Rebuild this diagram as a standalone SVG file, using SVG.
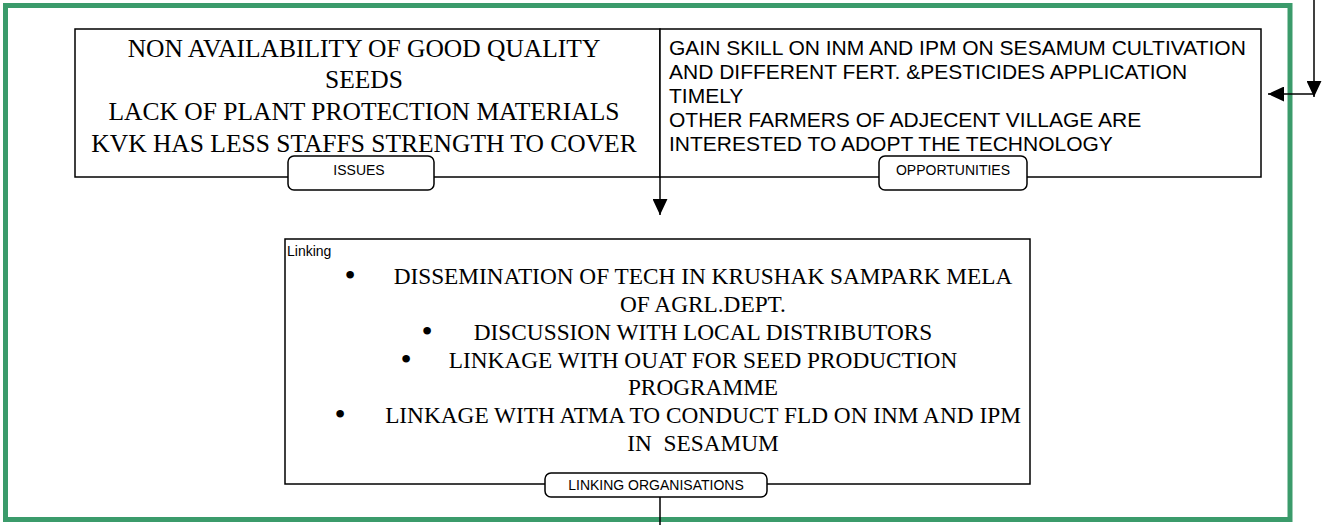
<svg xmlns="http://www.w3.org/2000/svg" width="1322" height="525" viewBox="0 0 1322 525">
<style>
.box{fill:#fff;stroke:#000;stroke-width:1.5}
.tab{fill:#fff;stroke:#000;stroke-width:1.5}
.frame{fill:none;stroke:#3b9b6b;stroke-width:5}
.line{fill:none;stroke:#000;stroke-width:1.5}
.serif{font-family:"Liberation Serif","Times New Roman",serif;fill:#000}
.sans{font-family:"Liberation Sans",Arial,sans-serif;fill:#000}
.lbl{font-family:"Liberation Sans",Arial,sans-serif;font-size:14px;fill:#000;text-anchor:middle}
.bul{font-family:"Liberation Serif","Times New Roman",serif;font-size:32px;fill:#000;text-anchor:middle}
</style>
<defs>
<marker id="ah" markerUnits="userSpaceOnUse" markerWidth="16" markerHeight="15" viewBox="0 0 15 14" refX="15" refY="7" orient="auto">
<path d="M0,0 L15,7 L0,14 z" fill="#000"/>
</marker>
</defs>
<rect width="1322" height="525" fill="#fff"/>
<rect class="frame" x="5.5" y="5.5" width="1284.5" height="514"/>

<g id="issues">
<rect class="box" x="75" y="29" width="585" height="148"/>
<g class="serif" font-size="25.5" text-anchor="middle">
<text x="364" y="57">NON AVAILABILITY OF GOOD QUALITY</text>
<text x="364" y="88">SEEDS</text>
<text x="364" y="120">LACK OF PLANT PROTECTION MATERIALS</text>
<text x="364" y="152">KVK HAS LESS STAFFS STRENGTH TO COVER</text>
</g>
<rect class="tab" x="288" y="156" width="146" height="34" rx="6"/>
<text class="lbl" x="359" y="175">ISSUES</text>
</g>

<g id="opportunities">
<rect class="box" x="660" y="29" width="601" height="148"/>
<g class="sans" font-size="21">
<text x="669" y="55">GAIN SKILL ON INM AND IPM ON SESAMUM CULTIVATION</text>
<text x="669" y="79">AND DIFFERENT FERT. &amp;PESTICIDES APPLICATION</text>
<text x="669" y="103">TIMELY</text>
<text x="669" y="127">OTHER FARMERS OF ADJECENT VILLAGE ARE</text>
<text x="669" y="151">INTERESTED TO ADOPT THE TECHNOLOGY</text>
</g>
<rect class="tab" x="879" y="156" width="148" height="34" rx="6"/>
<text class="lbl" x="953" y="175">OPPORTUNITIES</text>
</g>

<g id="linking">
<rect class="box" x="285" y="239" width="745" height="245"/>
<text class="sans" x="287" y="256" font-size="14">Linking</text>
<g class="serif" font-size="23.3" text-anchor="middle">
<text x="703" y="284">DISSEMINATION OF TECH IN KRUSHAK SAMPARK MELA</text>
<text x="703" y="312">OF AGRL.DEPT.</text>
<text x="703" y="339.5">DISCUSSION WITH LOCAL DISTRIBUTORS</text>
<text x="703" y="367.5">LINKAGE WITH OUAT FOR SEED PRODUCTION</text>
<text x="703" y="395">PROGRAMME</text>
<text x="703" y="423">LINKAGE WITH ATMA TO CONDUCT FLD ON INM AND IPM</text>
<text x="703" y="450.5" xml:space="preserve">IN  SESAMUM</text>
</g>
<text class="bul" x="350" y="286">•</text>
<text class="bul" x="427" y="341.5">•</text>
<text class="bul" x="406" y="369.5">•</text>
<text class="bul" x="340" y="425">•</text>
<rect class="tab" x="545" y="473" width="222" height="24" rx="6"/>
<text class="lbl" x="656" y="490">LINKING ORGANISATIONS</text>
</g>

<g id="connectors">
<line class="line" x1="660" y1="177" x2="660" y2="215" marker-end="url(#ah)"/>
<line class="line" x1="1314" y1="0" x2="1314" y2="97" marker-end="url(#ah)"/>
<line class="line" x1="1314" y1="94" x2="1268" y2="94" marker-end="url(#ah)"/>
<line class="line" x1="660" y1="497" x2="660" y2="525"/>
</g>
</svg>
